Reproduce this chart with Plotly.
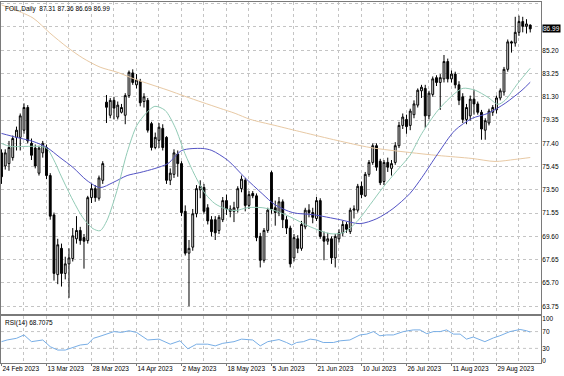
import plotly.graph_objects as go

# ---------------- data ----------------
date_labels = ["24 Feb 2023", "13 Mar 2023", "28 Mar 2023", "14 Apr 2023", "2 May 2023",
               "18 May 2023", "5 Jun 2023", "21 Jun 2023", "10 Jul 2023", "26 Jul 2023",
               "11 Aug 2023", "29 Aug 2023"]
date_label_bars = [0, 12, 24, 36, 48, 60, 72, 84, 96, 108, 120, 132]

price_ticks = [63.75, 65.70, 67.65, 69.60, 71.55, 73.50, 75.45, 77.40, 79.35,
               81.30, 83.25, 85.20, 87.15, 89.10]
price_tick_text = ["63.75", "65.70", "67.65", "69.60", "71.55", "73.50", "75.45", "77.40",
                   "79.35", "81.30", "83.25", "85.20", "", "89.10"]  # 87.15 hidden by price box

opens = [
    76.6, 75.5, 75.7, 76.2, 77.9, 77.9, 78.5, 80.4, 77.4, 77.0,
    74.9, 76.6, 77.05, 74.7, 71.4, 66.4, 68.6, 66.5, 67.3, 67.75,
    69.4, 70.1, 69.5, 69.25, 72.85, 73.6, 72.8, 74.3, 80.85, 79.75,
    81.0, 79.6, 80.0, 79.75, 81.4, 83.3, 82.3, 82.6, 80.9, 81.0,
    79.05, 77.05, 77.65, 78.65, 77.9, 74.3, 74.8, 76.5, 75.7, 71.7,
    68.2, 68.7, 71.5, 73.5, 73.7, 72.0, 71.0, 71.0, 70.1, 71.0,
    72.6, 71.9, 71.7, 72.0, 73.6, 74.3, 72.2, 73.2, 73.0, 69.6,
    67.6, 70.1, 74.95, 72.0, 71.6, 72.5, 71.0, 70.3, 67.8, 69.4,
    68.6, 70.4, 71.8, 71.6, 71.1, 72.6, 69.6, 69.2, 69.4, 67.8,
    69.4, 69.9, 70.6, 70.0, 71.8, 71.8, 73.8, 73.0, 74.8, 75.8,
    77.2, 75.9, 74.2, 75.8, 75.3, 75.8, 77.2, 78.9, 79.4, 78.9,
    79.8, 80.6, 81.8, 82.0, 79.7, 81.5, 82.9, 82.5, 82.8, 84.25,
    82.8, 83.2, 82.3, 81.3, 79.4, 79.7, 81.1, 80.7, 80.0, 78.5,
    79.1, 80.0, 80.2, 81.2, 81.7, 83.6, 85.9, 85.8, 86.7, 87.6,
    87.2, 87.31]

highs = [
    76.9, 76.9, 77.6, 78.05, 78.8, 79.9, 80.75, 80.6, 77.8, 77.3,
    77.2, 77.6, 77.3, 74.9, 71.6, 69.4, 69.0, 67.9, 68.6, 70.3,
    71.3, 70.4, 69.8, 73.0, 74.0, 73.9, 74.7, 75.9, 81.45, 81.2,
    81.3, 80.9, 80.7, 81.6, 83.5, 83.6, 83.2, 82.8, 81.6, 81.2,
    79.2, 78.3, 79.1, 79.0, 78.0, 75.3, 76.9, 76.8, 75.9, 72.2,
    69.3, 71.9, 73.9, 74.3, 74.0, 72.3, 71.3, 71.3, 71.4, 72.9,
    73.1, 72.2, 72.5, 73.8, 74.7, 74.5, 73.4, 73.4, 73.2, 69.9,
    70.3, 72.0, 75.1, 72.6, 72.9, 72.7, 71.3, 70.5, 69.8, 69.7,
    70.9, 72.0, 72.3, 72.0, 72.9, 72.8, 70.0, 69.9, 69.6, 69.8,
    70.2, 70.9, 70.8, 72.0, 72.2, 74.0, 74.2, 75.0, 76.0, 77.4,
    77.4, 76.1, 76.0, 76.2, 76.0, 77.5, 79.2, 79.9, 79.8, 80.3,
    81.0, 82.0, 82.3, 82.3, 81.8, 83.0, 83.1, 83.2, 84.8, 84.5,
    83.5, 83.4, 82.6, 81.6, 80.7, 81.4, 81.9, 80.9, 80.2, 79.5,
    80.3, 80.6, 81.4, 82.0, 83.8, 86.1, 86.0, 88.0, 88.1, 88.0,
    87.8, 87.36]

lows = [
    74.0, 75.2, 75.1, 75.95, 76.8, 76.8, 78.2, 77.4, 76.0, 75.3,
    74.7, 76.2, 74.4, 71.0, 65.9, 65.6, 65.4, 66.0, 64.45, 67.5,
    69.0, 68.9, 66.9, 69.0, 72.4, 72.5, 72.6, 74.0, 79.1, 79.5,
    79.4, 79.4, 79.9, 79.0, 81.2, 82.3, 82.0, 80.5, 80.4, 78.3,
    76.8, 76.9, 77.0, 76.8, 74.0, 73.9, 74.5, 74.6, 71.3, 68.0,
    63.75, 68.4, 71.2, 72.8, 71.5, 70.6, 69.6, 69.3, 69.8, 70.8,
    71.4, 71.2, 70.8, 71.6, 73.3, 71.7, 71.9, 72.8, 69.2, 67.0,
    67.4, 69.9, 71.5, 70.5, 71.3, 70.3, 69.8, 67.0, 67.5, 68.2,
    68.4, 70.2, 71.2, 70.7, 70.9, 69.4, 67.6, 68.9, 67.3, 67.0,
    69.1, 69.6, 69.9, 69.8, 71.1, 71.6, 72.8, 72.9, 74.6, 75.6,
    75.1, 73.9, 73.9, 75.0, 74.7, 75.6, 77.0, 78.6, 78.2, 78.5,
    79.5, 80.4, 81.2, 78.7, 79.4, 81.3, 82.2, 80.2, 82.5, 82.5,
    82.5, 82.0, 80.6, 79.1, 79.0, 79.3, 79.8, 79.8, 77.7, 77.7,
    78.9, 79.7, 79.9, 81.0, 81.4, 83.4, 85.0, 85.5, 86.4, 86.7,
    86.6, 86.69]

closes = [
    74.6, 76.6, 77.05, 77.8, 78.5, 79.7, 80.4, 77.6, 76.4, 75.5,
    77.0, 77.4, 74.7, 71.3, 66.5, 68.9, 66.5, 67.3, 67.8, 69.65,
    70.1, 69.25, 69.2, 72.85, 73.6, 72.85, 74.5, 75.7, 80.42, 81.0,
    80.35, 80.6, 80.4, 81.4, 83.35, 82.5, 82.7, 80.8, 81.3, 78.5,
    77.05, 77.9, 78.75, 77.05, 74.3, 74.9, 76.6, 75.7, 71.6, 68.2,
    68.6, 71.5, 73.6, 73.8, 71.7, 70.9, 70.0, 69.9, 71.2, 72.6,
    71.9, 71.7, 72.0, 73.6, 74.4, 72.2, 73.1, 73.0, 69.5, 67.6,
    70.1, 71.8, 71.9, 71.6, 72.5, 71.0, 70.3, 67.3, 69.5, 68.6,
    70.6, 71.8, 71.6, 71.2, 72.6, 69.6, 69.2, 69.4, 67.8, 69.6,
    69.9, 70.6, 70.2, 71.8, 71.9, 73.8, 73.1, 74.8, 75.8, 77.2,
    75.4, 74.1, 75.8, 75.4, 75.7, 77.2, 78.9, 79.6, 78.8, 80.1,
    80.7, 81.85, 82.1, 79.7, 81.6, 82.8, 82.5, 82.9, 84.25, 82.8,
    83.2, 82.3, 81.0, 79.4, 80.4, 81.1, 80.7, 80.0, 78.6, 79.3,
    80.1, 80.4, 81.2, 81.8, 83.6, 85.9, 85.8, 86.7, 87.6, 87.2,
    87.4, 86.99]

# slow MA (tan), mid MA (blue), fast MA (green): values read at bar positions
ma_slow_bar = [0, 2.3, 8.4, 12.9, 17.5, 21.7, 26.3, 30.8, 35.6, 39.6, 44.4, 48.9, 53.5,
               58.3, 62.3, 66.3, 72.9, 80.4, 89.5, 98.3, 108.9, 116.4, 125.5, 131.6, 136.9, 141]
ma_slow_val = [88.99, 88.74, 87.90, 86.64, 85.46, 84.54, 83.78, 83.36, 82.77, 82.35, 81.85,
               81.34, 80.84, 80.33, 79.91, 79.41, 78.90, 78.32, 77.64, 77.05, 76.63, 76.38,
               76.13, 75.88, 76.05, 76.21]

ma_mid_bar = [0, 4.1, 8.4, 12.1, 15.6, 19.1, 22.8, 26.3, 29.7, 33.5, 36.9, 40.9, 44.4, 48.1,
              53.5, 56.1, 60.4, 64.9, 69.5, 72.9, 77.7, 83.1, 90.3, 95.6, 100.1, 104.4, 108.9,
              112.1, 116.4, 120.9, 125.5, 129.7, 134.3, 138.8, 141]
ma_mid_val = [78.23, 77.89, 77.56, 77.05, 76.21, 75.37, 74.28, 73.69, 74.11, 74.70, 74.95,
              75.29, 75.71, 76.80, 76.97, 76.80, 75.96, 74.53, 73.19, 72.26, 71.59, 71.42,
              71.00, 70.67, 71.09, 71.93, 73.19, 74.53, 76.55, 78.48, 79.49, 79.91, 80.75,
              81.85, 82.52]

ma_fast_bar = [0, 2.3, 6.3, 10.3, 12.1, 14.3, 15.6, 17.5, 19.1, 21.7, 24.4, 26.3, 28.1, 30.8,
               33.5, 36.1, 38.8, 40.9, 43.6, 46.3, 48.9, 51.6, 54.3, 56.9, 59.6, 62.3, 65.7,
               69.5, 72.9, 76.9, 82.3, 87.6, 91.1, 94.8, 98.3, 101.7, 105.5, 108.9, 112.1,
               116.4, 120.9, 123.1, 126.3, 129.7, 132.4, 134.3, 137.7, 141]
ma_fast_val = [77.39, 77.14, 77.14, 77.14, 76.97, 75.79, 74.87, 73.61, 72.60, 71.17, 70.25,
               70.08, 70.92, 73.44, 76.63, 78.90, 80.00, 80.50, 80.17, 78.74, 76.55, 74.70,
               73.19, 72.35, 71.93, 71.76, 72.01, 72.01, 71.76, 71.25, 70.41, 69.83, 69.91,
               70.84, 72.26, 73.69, 75.12, 76.38, 78.23, 80.17, 81.59, 82.01, 81.85, 81.26,
               80.67, 81.01, 82.43, 83.69]

rsi_bar = [0, 1.5, 4, 6, 8, 11, 13, 15, 17, 18.5, 21, 23, 24.5, 26, 30, 32, 34, 36, 39, 42,
           45, 47.6, 49.7, 52, 55, 57, 59, 62, 64, 67, 69, 71, 74, 76, 77.4, 78.7, 80.5, 82.3,
           84, 85.8, 88.5, 90.3, 92.9, 95.6, 97.4, 99.2, 100.9, 102.7, 104.5, 107.2, 109.8,
           111.6, 113.4, 115.2, 117, 118.7, 120.5, 122.3, 124, 125.8, 127.6, 128.9, 131.2,
           132.9, 135.6, 138.3, 140, 141]
rsi_val = [46, 50, 54, 62, 46, 50, 34, 26, 26, 30, 38, 40, 54, 58, 70, 68, 72, 68, 50, 52,
           40, 48, 29, 40, 40, 36, 42, 46, 52, 50, 36, 46, 51, 44, 38, 44, 46, 52, 50, 44,
           44, 48, 50, 62, 64, 70, 60, 62, 62, 70, 74, 74, 65, 70, 70, 74, 64, 64, 52, 57,
           50, 46, 55, 60, 70, 75, 72, 68.7]
rsi_ticks = [0, 30, 70, 100]

title_text = "FOIL,Daily  87.31 87.36 86.69 86.99"
rsi_text = "RSI(14) 68.7075"
last_price = 86.99

# ---------------- figure ----------------
W, H = 564, 376
ML, MR, MT, MB = 1, 23, 2, 13
plot_h = H - MT - MB
main_dom = [(H - MB - 314) / plot_h, 1.0]
rsi_dom = [0.0, (H - MB - 316) / plot_h]

FONT = "Liberation Sans"
GRID = "#c4c4c4"
BORDER = "#7a7a7a"
FS = 6.5

bars = list(range(len(closes)))
xr = [-0.13, 143.87]

fig = go.Figure()
fig.add_trace(go.Candlestick(
    x=bars, open=opens, high=highs, low=lows, close=closes,
    increasing=dict(line=dict(color="black", width=1), fillcolor="#f2f2f2"),
    decreasing=dict(line=dict(color="black", width=1), fillcolor="black"),
    whiskerwidth=0, showlegend=False, hoverinfo="skip", xaxis="x", yaxis="y"))

fig.add_trace(go.Scatter(x=ma_slow_bar, y=ma_slow_val, mode="lines",
                         line=dict(color="#e8c9a4", width=1, shape="spline", smoothing=0.8),
                         showlegend=False, hoverinfo="skip", xaxis="x", yaxis="y"))
fig.add_trace(go.Scatter(x=ma_mid_bar, y=ma_mid_val, mode="lines",
                         line=dict(color="#5252c4", width=1, shape="spline", smoothing=0.8),
                         showlegend=False, hoverinfo="skip", xaxis="x", yaxis="y"))
fig.add_trace(go.Scatter(x=ma_fast_bar, y=ma_fast_val, mode="lines",
                         line=dict(color="#92cbb6", width=1, shape="spline", smoothing=0.8),
                         showlegend=False, hoverinfo="skip", xaxis="x", yaxis="y"))
fig.add_trace(go.Scatter(x=rsi_bar, y=rsi_val, mode="lines",
                         line=dict(color="#78aee6", width=1),
                         showlegend=False, hoverinfo="skip", xaxis="x2", yaxis="y2"))

minor_bars = [b + 6 for b in date_label_bars]

common_x = dict(range=xr, showgrid=True, gridcolor=GRID, griddash="dot", gridwidth=1,
                zeroline=False, showline=True, mirror=True, linecolor=BORDER, linewidth=1,
                tickmode="array", tickvals=date_label_bars, automargin=False,
                minor=dict(tickmode="array", tickvals=minor_bars, showgrid=True,
                           gridcolor=GRID, griddash="dot", ticks=""))

fig.update_layout(
    width=W, height=H,
    margin=dict(l=ML, r=MR, t=MT, b=MB, pad=0, autoexpand=False),
    paper_bgcolor="white", plot_bgcolor="white",
    font=dict(family=FONT, size=FS, color="black"),
    showlegend=False, hovermode=False,
    xaxis=dict(**common_x, anchor="y", domain=[0, 1], showticklabels=False, ticks="",
               rangeslider=dict(visible=False)),
    xaxis2=dict(**common_x, anchor="y2", domain=[0, 1], ticktext=date_labels,
                ticks="outside", ticklen=2, tickcolor=BORDER, tickangle=0,
                ticklabelposition="outside right", ticklabelstandoff=-1,
                tickfont=dict(size=FS)),
    yaxis=dict(domain=main_dom, range=[63.10, 89.24], side="right", anchor="x",
               tickmode="array", tickvals=price_ticks, ticktext=price_tick_text,
               ticks="", ticklabelstandoff=-1, automargin=False,
               showgrid=True, gridcolor=GRID, griddash="dot", zeroline=False,
               showline=True, mirror=True, linecolor=BORDER, tickfont=dict(size=FS)),
    yaxis2=dict(domain=rsi_dom, range=[-4.8, 107.1], side="right", anchor="x2",
                tickmode="array", tickvals=rsi_ticks, ticktext=[str(v) for v in rsi_ticks],
                ticks="", ticklabelstandoff=-1, automargin=False,
                showgrid=False, zeroline=False,
                showline=True, mirror=True, linecolor=BORDER, tickfont=dict(size=FS)),
)

for lvl in (30, 70):
    fig.add_shape(type="line", xref="x2", yref="y2", x0=xr[0], x1=xr[1], y0=lvl, y1=lvl,
                  line=dict(color=GRID, width=1, dash="dot"), layer="below")

fig.add_annotation(text=title_text, xref="paper", yref="paper", x=0, y=1,
                   xanchor="left", yanchor="top", xshift=2, yshift=-1, showarrow=False,
                   font=dict(size=FS, color="black"))
fig.add_annotation(text=rsi_text, xref="paper", yref="paper", x=0, y=rsi_dom[1],
                   xanchor="left", yanchor="top", xshift=2, yshift=-1, showarrow=False,
                   font=dict(size=FS, color="black"))
fig.add_annotation(text="%.2f" % last_price, xref="paper", yref="y", x=1, y=last_price,
                   xanchor="left", yanchor="middle", xshift=1, showarrow=False,
                   bgcolor="black", borderpad=0, font=dict(size=FS, color="white"))

fig.write_html("out.html",
               config={"displayModeBar": False, "staticPlot": True},
               post_script="document.body.style.margin='0px';document.body.style.overflow='hidden';")
